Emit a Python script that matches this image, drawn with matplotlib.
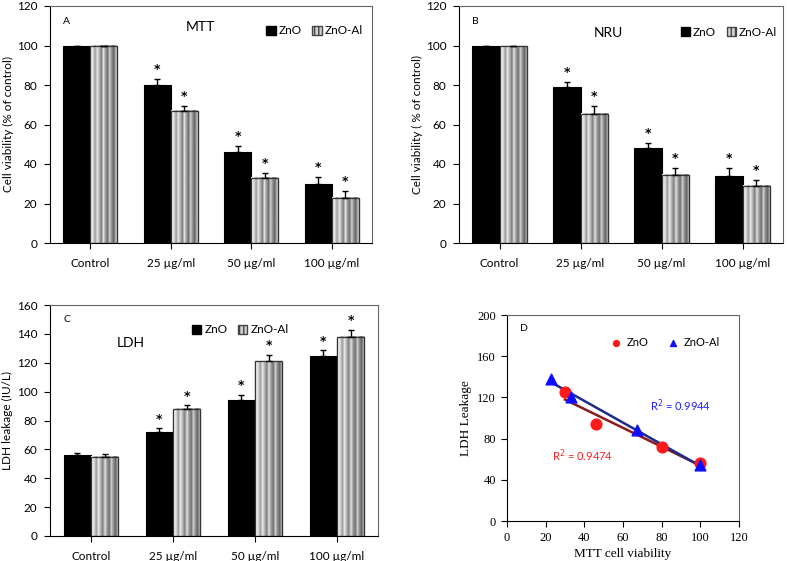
import numpy as np
import matplotlib
matplotlib.use("Agg")
import matplotlib.pyplot as plt
from matplotlib.patches import Patch

plt.rcParams['font.family'] = ['Lato', 'DejaVu Sans']

categories = ["Control", "25 µg/ml", "50 µg/ml", "100 µg/ml"]

mtt_zno = [100, 80, 46, 30]
mtt_zno_err = [0, 3, 3, 3.5]
mtt_znoal = [100, 67, 33, 23]
mtt_znoal_err = [0, 2.5, 2.5, 3.5]

nru_zno = [100, 79, 48, 34]
nru_zno_err = [0, 2.5, 2.5, 4]
nru_znoal = [99.5, 65.5, 34.5, 29]
nru_znoal_err = [0, 4, 3.5, 3]

ldh_zno = [56, 72, 94, 125]
ldh_zno_err = [1.8, 2.5, 4, 3.5]
ldh_znoal = [55, 88, 121, 138]
ldh_znoal_err = [1.5, 2.5, 4.5, 5]

sig_zno = [False, True, True, True]
sig_znoal = [False, True, True, True]

# panel D
d_zno_x = [100, 80, 46, 30]
d_zno_y = [56, 72, 94, 125]
d_al_x = [100, 67, 33, 23]
d_al_y = [54, 88, 120, 138]
r2_zno = "R$^2$ = 0.9474"
r2_al = "R$^2$ = 0.9944"

W, H = 787, 561
fig = plt.figure(figsize=(W / 100, H / 100), dpi=100)


def px_axes(l, t, r, b):
    return fig.add_axes([l / W, (H - b) / H, (r - l) / W, (b - t) / H])


stripe = np.array([0.97, 0.85, 0.62, 0.9, 0.7, 0.5, 0.88, 0.6, 0.45, 0.8, 0.55, 0.4, 0.75])[None, :]


def star(ax, x, y):
    ax.annotate('*', (x, y), xytext=(0, 2), textcoords='offset points', ha='center',
                va='bottom', fontsize=9, fontweight='bold', family=['DejaVu Sans'])


def bar_panel(ax, v1, e1, v2, e2, s1, s2, ymax, ystep, letter, title, title_xy, leg_xy, ylabel):
    x = np.arange(len(categories))
    w = 0.335
    ax.bar(x - w / 2, v1, w, color='black', edgecolor='black', linewidth=0.8, zorder=2)
    ax.errorbar(x - w / 2, v1, yerr=[np.zeros(len(e1)), e1], fmt='none', ecolor='black',
                elinewidth=1, capsize=2.5, capthick=1, zorder=3)
    bars2 = ax.bar(x + w / 2, v2, w, color='#c0c0c0', edgecolor='black', linewidth=0.8, zorder=2)
    for r in bars2:
        x0, wd, ht = r.get_x(), r.get_width(), r.get_height()
        ax.imshow(stripe, cmap='gray', vmin=0, vmax=1, extent=(x0, x0 + wd, 0, ht),
                  aspect='auto', interpolation='bilinear', zorder=2.5)
        ax.add_patch(plt.Rectangle((x0, 0), wd, ht, fill=False, edgecolor='#333333', lw=0.9, zorder=2.6))
    ax.errorbar(x + w / 2, v2, yerr=[np.zeros(len(e2)), e2], fmt='none', ecolor='black',
                elinewidth=1, capsize=2.5, capthick=1, zorder=3)
    for xi, v, e, s in zip(x - w / 2, v1, e1, s1):
        if s:
            star(ax, xi, v + e)
    for xi, v, e, s in zip(x + w / 2, v2, e2, s2):
        if s:
            star(ax, xi, v + e)
    ax.set_xlim(-0.5, len(categories) - 0.5)
    ax.set_ylim(0, ymax)
    ax.set_yticks(np.arange(0, ymax + 1, ystep))
    ax.set_xticks(x)
    ax.set_xticklabels(categories)
    ax.tick_params(axis='both', direction='out', length=4, width=0.8, labelsize=8.5, pad=5)
    ax.tick_params(axis='x', pad=7)
    for sp in ax.spines.values():
        sp.set_linewidth(0.8)
    for sp in ['top', 'right']:
        ax.spines[sp].set_color('#666666')
    ax.set_ylabel(ylabel, fontsize=8.5)
    ax.yaxis.set_label_coords(-0.112, 0.5)
    ax.text(0.04, 0.955, letter, transform=ax.transAxes, fontsize=7.5, ha='left', va='top')
    ax.text(title_xy[0], title_xy[1], title, transform=ax.transAxes, fontsize=10, ha='center', va='center')
    handles = [Patch(facecolor='black', edgecolor='black'),
               Patch(facecolor='#d0d0d0', edgecolor='#444444', hatch='||||')]
    ax.legend(handles, ['ZnO', 'ZnO-Al'], loc='center', bbox_to_anchor=leg_xy, ncol=2,
              frameon=False, fontsize=8.5, handlelength=0.8, handleheight=0.8,
              handletextpad=0.25, columnspacing=0.9, borderaxespad=0)


axA = px_axes(50, 6, 372, 243)
bar_panel(axA, mtt_zno, mtt_zno_err, mtt_znoal, mtt_znoal_err, sig_zno, sig_znoal,
          120, 20, 'A', 'MTT', (0.466, 0.91), (0.822, 0.895), 'Cell viability (% of control)')

axB = px_axes(459, 6, 783, 243)
bar_panel(axB, nru_zno, nru_zno_err, nru_znoal, nru_znoal_err, sig_zno, sig_znoal,
          120, 20, 'B', 'NRU', (0.46, 0.886), (0.833, 0.89), 'Cell viability ( % of control)')

axC = px_axes(50, 305, 378, 536)
bar_panel(axC, ldh_zno, ldh_zno_err, ldh_znoal, ldh_znoal_err, sig_zno, sig_znoal,
          160, 20, 'C', 'LDH', (0.245, 0.835), (0.58, 0.892), 'LDH leakage (IU/L)')

# Panel D
axD = px_axes(507, 315, 739, 521)
axD.scatter(d_zno_x, d_zno_y, s=60, color='#ff1a1a', zorder=3, label='ZnO')
axD.scatter(d_al_x, d_al_y, s=60, marker='^', color='#0d0dff', zorder=3, label='ZnO-Al')
for xs, ys, c in [(d_zno_x, d_zno_y, '#8b1a1a'), (d_al_x, d_al_y, '#1c2a8c')]:
    p = np.polyfit(xs, ys, 1)
    xx = np.array([min(xs), max(xs)])
    axD.plot(xx, np.polyval(p, xx), color=c, lw=1.8, zorder=2)
axD.set_xlim(0, 120)
axD.set_ylim(0, 200)
axD.set_xticks(np.arange(0, 121, 20))
axD.set_yticks(np.arange(0, 201, 40))
axD.tick_params(axis='both', direction='out', length=4, width=0.8, labelsize=9, pad=4)
for lab in axD.get_xticklabels() + axD.get_yticklabels():
    lab.set_family(['Liberation Serif'])
for sp in axD.spines.values():
    sp.set_linewidth(0.8)
for sp in ['top', 'right']:
    axD.spines[sp].set_color('#666666')
axD.set_xlabel('MTT cell viability', family=['Liberation Serif'], fontsize=9.5, labelpad=3)
axD.set_ylabel('LDH Leakage', family=['Liberation Serif'], fontsize=9.5)
axD.yaxis.set_label_coords(-0.15, 0.5)
axD.text(0.055, 0.955, 'D', transform=axD.transAxes, fontsize=7.5, ha='left', va='top')
axD.text(0.325, 0.316, r2_zno, transform=axD.transAxes, color='#ff2020', fontsize=8, ha='center', va='center')
axD.text(0.747, 0.558, r2_al, transform=axD.transAxes, color='#2020ff', fontsize=8, ha='center', va='center')
axD.legend(loc='center', bbox_to_anchor=(0.67, 0.865), ncol=2, frameon=False, fontsize=8,
           handletextpad=0.0, columnspacing=1.2, markerscale=0.55, borderaxespad=0)

fig.savefig('out.png', dpi=100)
